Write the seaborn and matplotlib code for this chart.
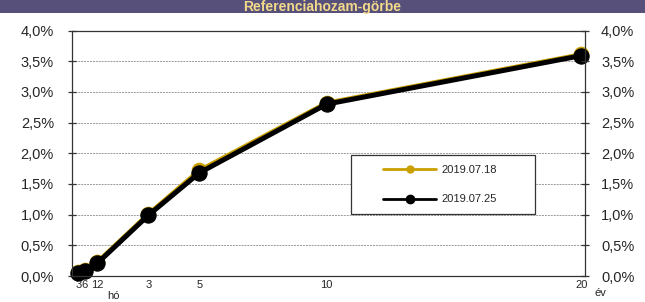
import pandas as pd
import matplotlib
matplotlib.use('Agg')
import matplotlib.pyplot as plt
import seaborn as sns
from matplotlib.lines import Line2D
from matplotlib.patches import Rectangle
from matplotlib.ticker import FuncFormatter

# maturities in years
maturities = [0.25, 0.5, 1, 3, 5, 10, 20]
tick_labels = ['3', '6', '12', '3', '5', '10', '20']
yield_0718 = [0.06, 0.09, 0.23, 1.01, 1.72, 2.82, 3.61]
yield_0725 = [0.05, 0.08, 0.21, 0.99, 1.68, 2.80, 3.59]
dates = ['2019.07.18', '2019.07.25']

GOLD = '#C9A000'
BAND = '#56507A'

df = pd.concat([
    pd.DataFrame({'lejarat': maturities, 'hozam': yield_0718, 'datum': dates[0]}),
    pd.DataFrame({'lejarat': maturities, 'hozam': yield_0725, 'datum': dates[1]}),
])

sns.set_style('white')
plt.rcParams['font.family'] = ['Liberation Sans', 'DejaVu Sans']

fig = plt.figure(figsize=(6.45, 3.02), dpi=100)
ax = fig.add_axes([72 / 645, 26 / 302, 513 / 645, 245.5 / 302])

# title band (cut at the top like the source)
fig.patches.append(Rectangle((0, 1 - 13 / 302), 1, 13 / 302, transform=fig.transFigure,
                             facecolor=BAND, edgecolor='none', zorder=0))
fig.text(0.5, 1 - 11 / 302, 'Referenciahozam-görbe', ha='center', va='baseline',
         color='#F3D98A', fontsize=10, fontweight='bold')

for d, col, lw, ms in [(dates[0], GOLD, 3.2, 10.5), (dates[1], 'black', 3.6, 11)]:
    sub = df[df['datum'] == d]
    sns.lineplot(data=sub, x='lejarat', y='hozam', ax=ax, color=col, linewidth=lw,
                 marker='o', markersize=ms, markeredgecolor=col, legend=False, clip_on=False)

yticks = [i * 0.5 for i in range(9)]
pct = FuncFormatter(lambda v, p: f'{v:.1f}%'.replace('.', ','))

ax.set_xlim(0, 20.15)
ax.set_ylim(0, 4.0)
ax.set_yticks(yticks)
ax.yaxis.set_major_formatter(pct)
ax.yaxis.grid(True, linestyle=(0, (2, 1)), color='#9A9A9A', linewidth=0.7)
ax.xaxis.grid(False)
ax.set_xticks(maturities)
ax.set_xticklabels(tick_labels)
ax.tick_params(axis='x', length=0, labelsize=8, pad=3)
ax.tick_params(axis='y', direction='inout', length=6, width=0.9, color='#333333',
               labelsize=10.5, left=True, right=False, labelleft=True, labelright=False, pad=10)
ax.set_xlabel('')
ax.set_ylabel('')
for s in ax.spines.values():
    s.set_visible(True)
    s.set_color('#333333')
    s.set_linewidth(0.9)

# right-hand copy of the y axis
ax2 = ax.twinx()
ax2.set_ylim(0, 4.0)
ax2.set_yticks(yticks)
ax2.yaxis.set_major_formatter(pct)
ax2.grid(False)
ax2.tick_params(axis='y', direction='inout', length=6, width=0.9, color='#333333',
                labelsize=10.5, right=True, labelright=True, pad=8.5)
for s in ax2.spines.values():
    s.set_visible(False)

fig.text(113 / 645, 1 - 296 / 302, 'hó', ha='center', va='center', fontsize=8)
fig.text(600 / 645, 1 - 293 / 302, 'év', ha='center', va='center', fontsize=8)

# legend box drawn separately so it can be wider than its content
ax.add_patch(Rectangle((0.544, 0.2525), 0.3585, 0.2405, transform=ax.transAxes,
                       facecolor='white', edgecolor='#333333', linewidth=0.9, zorder=4))
handles = [
    Line2D([], [], color=GOLD, linewidth=2, marker='o', markersize=5),
    Line2D([], [], color='black', linewidth=2, marker='o', markersize=6),
]
leg = ax.legend(handles, dates, loc='upper left', bbox_to_anchor=(0.606, 0.452),
                frameon=False, fontsize=8, handlelength=4.8,
                labelspacing=1.75, borderpad=0, handletextpad=0.45, borderaxespad=0)
leg.set_zorder(5)

fig.savefig('out.png', dpi=100)
